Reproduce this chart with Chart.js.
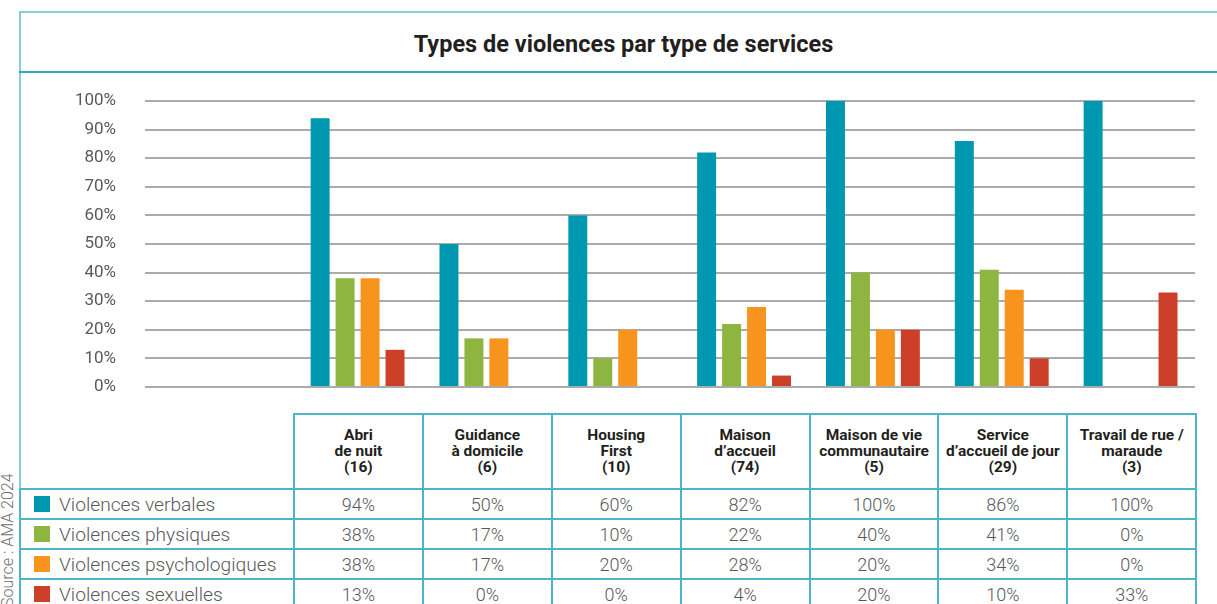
<!DOCTYPE html>
<html lang="fr">
<head>
<meta charset="utf-8">
<script src="https://cdn.jsdelivr.net/npm/chart.js@4.4.1/dist/chart.umd.min.js"></script>
<style>
  html, body { margin: 0; padding: 0; background: #fff; }
  body { width: 1217px; height: 604px; overflow: hidden; position: relative; font-family: Roboto, "Noto Sans", sans-serif; }
  #frame { position: absolute; left: 19px; top: 11px; width: 1240px; height: 700px; border-left: 2px solid #86cfd9; border-top: 2px solid #86cfd9; box-sizing: border-box; }
  #titleLine { position: absolute; left: 19px; top: 71px; width: 1240px; height: 0; border-top: 2px solid #2aabc0; }
  #title { position: absolute; left: 19px; top: 30px; width: 1209px; text-align: center; font-weight: bold; font-size: 23.5px; color: #231f20; }
  #chart { position: absolute; left: 20px; top: 80px; }
  #source { position: absolute; left: -2px; top: 607px; transform-origin: 0 0; transform: rotate(-90deg); font-size: 16px; font-weight: 300; color: #6d6e71; white-space: nowrap; }
  table { position: absolute; left: 19px; top: 413px; border-collapse: collapse; table-layout: fixed; }
  td { border: 2px solid #4ab6c8; padding: 0; text-align: center; color: #58595b; font-size: 18px; font-weight: 300; height: 28px; }
  thead td { height: 75px; font-weight: bold; font-size: 15.5px; line-height: 16px; color: #231f20; vertical-align: top; padding-top: 12px; box-sizing: border-box; }
  thead td.blank { border-top: none; border-left: none; }
  td.name { text-align: left; font-size: 19.2px; padding-left: 13px; white-space: nowrap; }
  .sw { display: inline-block; width: 16px; height: 16px; vertical-align: -1px; margin-right: 9px; }
</style>
</head>
<body>
<div id="frame"></div>
<div id="titleLine"></div>
<div id="title">Types de violences par type de services</div>
<canvas id="chart" width="1180" height="320"></canvas>
<div id="source">Source : AMA 2024</div>
<table id="dataTable"><colgroup id="cols"></colgroup><thead></thead><tbody></tbody></table>
<script>
// Categories (service types) and sample sizes
const services = [
  ['Abri', 'de nuit'],
  ['Guidance', 'à domicile'],
  ['Housing', 'First'],
  ['Maison', 'd\u2019accueil'],
  ['Maison de vie', 'communautaire'],
  ['Service', 'd\u2019accueil de jour'],
  ['Travail de rue /', 'maraude']
];
const counts = [16, 6, 10, 74, 5, 29, 3];

// Series (percentages)
const seriesNames = ['Violences verbales', 'Violences physiques', 'Violences psychologiques', 'Violences sexuelles'];
const verbales = [94, 50, 60, 82, 100, 86, 100];
const physiques = [38, 17, 10, 22, 40, 41, 0];
const psychologiques = [38, 17, 20, 28, 20, 34, 0];
const sexuelles = [13, 0, 0, 4, 20, 10, 33];
const seriesColors = ['#0098b1', '#8db53f', '#f7941e', '#cc4029'];

const yTicks = [0, 10, 20, 30, 40, 50, 60, 70, 80, 90, 100];

const allSeries = [verbales, physiques, psychologiques, sexuelles];

// Build the chart (x is a linear index so the empty band left of the table columns stays in the plot)
const ctx = document.getElementById('chart').getContext('2d');
new Chart(ctx, {
  type: 'bar',
  data: {
    datasets: allSeries.map((vals, i) => ({
      label: seriesNames[i],
      data: vals.map((v, j) => ({ x: j, y: v })),
      backgroundColor: seriesColors[i],
      borderWidth: 0,
      barPercentage: 0.76,
      categoryPercentage: 0.775
    }))
  },
  options: {
    responsive: false,
    animation: false,
    layout: { padding: { top: 21, bottom: 13, left: 0, right: 5 } },
    plugins: { legend: { display: false }, tooltip: { enabled: false } },
    scales: {
      x: {
        type: 'linear',
        min: -1.65,
        max: 6.5,
        offset: false,
        display: false,
        afterBuildTicks: (scale) => { scale.ticks = services.map((s, i) => ({ value: i })); }
      },
      y: {
        min: 0,
        max: 100,
        // fixed label column; tick padding would otherwise also pad the top/bottom
        afterFit: (scale) => { scale.width = 125; scale.paddingTop = 0; scale.paddingBottom = 0; },
        afterBuildTicks: (scale) => { scale.ticks = yTicks.map(v => ({ value: v })); },
        border: { display: false },
        grid: { color: '#ababab', lineWidth: 2, drawTicks: false },
        ticks: {
          padding: 29,
          color: '#58595b',
          font: { family: 'Roboto', size: 17 },
          callback: (v) => v + '%'
        }
      }
    }
  }
});

// Build the data table under the chart
const cols = document.getElementById('cols');
const firstCol = document.createElement('col');
firstCol.style.width = '274px';
cols.appendChild(firstCol);
services.forEach(() => {
  const c = document.createElement('col');
  c.style.width = '128.9px';
  cols.appendChild(c);
});

const thead = document.querySelector('#dataTable thead');
const hr = document.createElement('tr');
const blank = document.createElement('td');
blank.className = 'blank';
hr.appendChild(blank);
services.forEach((lines, i) => {
  const td = document.createElement('td');
  td.innerHTML = lines.join('<br>') + '<br>(' + counts[i] + ')';
  hr.appendChild(td);
});
thead.appendChild(hr);

const tbody = document.querySelector('#dataTable tbody');
allSeries.forEach((vals, i) => {
  const tr = document.createElement('tr');
  const name = document.createElement('td');
  name.className = 'name';
  name.innerHTML = '<span class="sw" style="background:' + seriesColors[i] + '"></span>' + seriesNames[i];
  tr.appendChild(name);
  vals.forEach(v => {
    const td = document.createElement('td');
    td.textContent = v + '%';
    tr.appendChild(td);
  });
  tbody.appendChild(tr);
});
</script>
</body>
</html>
